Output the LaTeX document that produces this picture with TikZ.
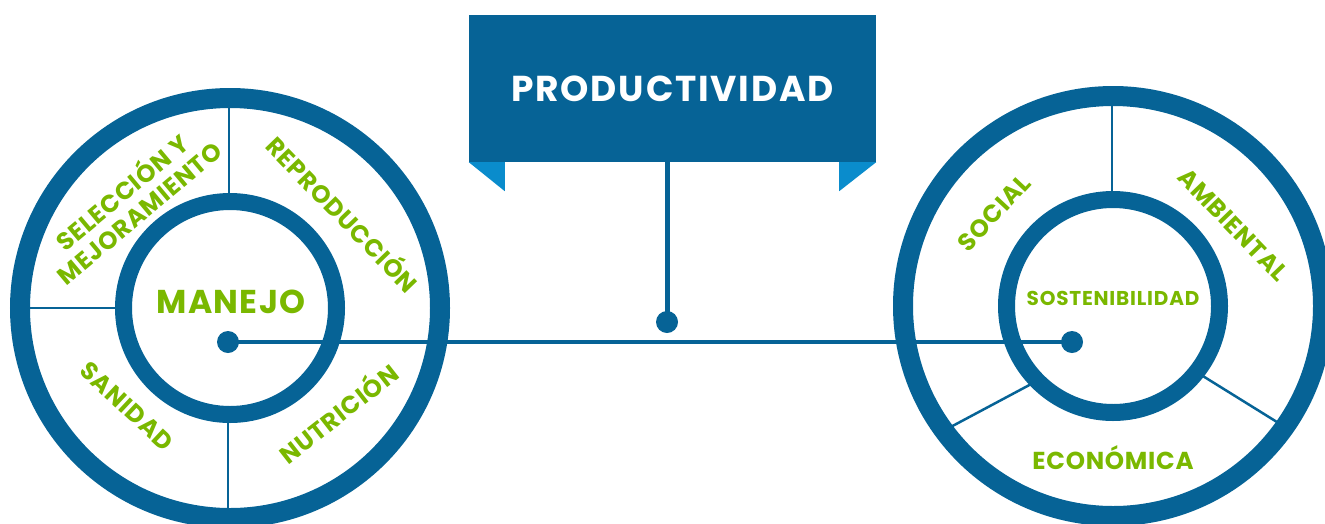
\documentclass[tikz,border=0pt]{standalone}
\usepackage{fontspec}
\setmainfont{Poppins}
\newfontfamily\lsA{Poppins}[LetterSpace=3]
\newfontfamily\lsB{Poppins}[LetterSpace=4]
\newfontfamily\lsC{Poppins}[LetterSpace=5]
\definecolor{mblue}{RGB}{6,99,150}
\definecolor{mgreen}{RGB}{122,184,0}
\definecolor{mfold}{RGB}{10,140,204}
\begin{document}
\begin{tikzpicture}[x=1pt,y=-1pt,
  ringouter/.style={draw=mblue,line width=20pt},
  ringinner/.style={draw=mblue,line width=17pt,fill=white},
  divider/.style={draw=mblue,line width=2.5pt},
  link/.style={draw=mblue,line width=4.5pt},
  dotnode/.style={circle,fill=mblue,inner sep=0pt,minimum size=22pt},
  seglabel/.style={text=mgreen,font=\lsA\bfseries\fontsize{24.5}{27}\selectfont,align=center,inner sep=0pt},
  titlebox/.style={fill=mblue,minimum width=407pt,minimum height=147pt,inner sep=0pt,text=white,font=\lsC\bfseries\fontsize{36}{40}\selectfont},
  foldshape/.style={fill=mfold}]
\useasboundingbox (0,0) rectangle (1325,523);
% ---- left wheel ----
\coordinate (L) at (230,308);
\draw[divider] (229,100) -- (229,200);
\draw[divider] (20,308) -- (125,308);
\draw[divider] (228,415) -- (228,515);
\draw[ringouter] (L) circle[radius=210pt];
\draw[ringinner] (L) circle[radius=106.5pt];
% ---- right wheel ----
\coordinate (R) at (1113,306);
\draw[divider] (1112,96) -- (1112,200);
\draw[divider] (1035,382) -- (945,430);
\draw[divider] (1198,373) -- (1285,427);
\draw[ringouter] (R) circle[radius=210pt];
\draw[ringinner] (R) circle[radius=106.5pt];
% ---- title ----
\node[titlebox] (box) at (672.5,88.5) {PRODUCTIVIDAD};
\fill[foldshape] (box.south west) -- ++(36,0) -- ++(0,29) -- cycle;
\fill[foldshape] (box.south east) -- ++(-37,0) -- ++(0,29) -- cycle;
% ---- connectors ----
\node[dotnode] (dotL) at (228,342) {};
\node[dotnode] (dotR) at (1072,342) {};
\node[dotnode] (dotP) at (667,322) {};
\draw[link] (dotL.center) -- (dotR.center);
\draw[draw=mblue,line width=5pt] (box.south -| dotP) -- (dotP.center);
% ---- labels left ----
\node[text=mgreen,font=\lsB\bfseries\fontsize{33}{36}\selectfont] (manejo) at (231,302) {MANEJO};
\node[seglabel,rotate=40] (sel) at (129,201) {SELECCIÓN Y\\MEJORAMIENTO};
\node[seglabel,rotate=-46] (rep) at (344,213) {REPRODUCCIÓN};
\node[seglabel,rotate=-43] (san) at (127,406) {SANIDAD};
\node[seglabel,rotate=38] (nut) at (337,412) {NUTRICIÓN};
% ---- labels right ----
\node[text=mgreen,font=\lsB\bfseries\fontsize{20}{22}\selectfont] (sos) at (1113,298) {SOSTENIBILIDAD};
\node[seglabel,rotate=47] (soc) at (994,213) {SOCIAL};
\node[seglabel,rotate=-46] (amb) at (1233,225) {AMBIENTAL};
\node[seglabel] (eco) at (1113,458) {ECONÓMICA};
\end{tikzpicture}
\end{document}
